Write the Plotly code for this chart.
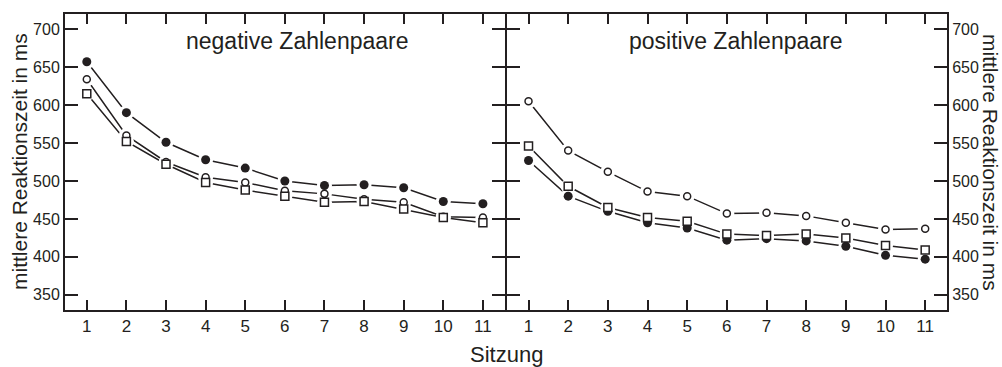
import plotly.graph_objects as go

sessions = list(range(1, 12))
y_ticks = [350, 400, 450, 500, 550, 600, 650, 700]

# negative Zahlenpaare
neg_filled = [657, 590, 551, 528, 517, 500, 494, 495, 491, 473, 470]
neg_circle = [634, 560, 525, 505, 498, 487, 483, 476, 472, 453, 452]
neg_square = [615, 552, 522, 498, 488, 480, 472, 473, 463, 452, 445]

# positive Zahlenpaare
pos_filled = [527, 480, 460, 445, 438, 422, 424, 421, 414, 402, 397]
pos_circle = [605, 540, 512, 486, 480, 457, 458, 454, 445, 436, 437]
pos_square = [546, 493, 465, 452, 447, 430, 428, 430, 425, 415, 409]

panel_titles = ["negative Zahlenpaare", "positive Zahlenpaare"]
x_title = "Sitzung"
y_title = "mittlere Reaktionszeit in ms"

INK = "#231f20"
FONT = "Liberation Sans, Arial, sans-serif"
W, H = 1002, 367

fig = go.Figure()

panels = [
    ("x", "y", [neg_filled, neg_circle, neg_square]),
    ("x2", "y2", [pos_filled, pos_circle, pos_square]),
]
styles = [
    dict(symbol="circle", size=9, fill=INK, lw=0),
    dict(symbol="circle", size=7, fill="white", lw=1.5),
    dict(symbol="square", size=8, fill="white", lw=1.5),
]

for xa, ya, series in panels:
    for s in series:
        fig.add_trace(go.Scatter(x=sessions, y=s, mode="lines", xaxis=xa, yaxis=ya,
                                 line=dict(color=INK, width=1.5), showlegend=False,
                                 hoverinfo="skip"))
    for s in series:
        fig.add_trace(go.Scatter(x=sessions, y=s, mode="markers", xaxis=xa, yaxis=ya,
                                 marker=dict(symbol="circle", size=15, color="white",
                                             line=dict(width=0)),
                                 showlegend=False, hoverinfo="skip"))
    for s, st in zip(series, styles):
        fig.add_trace(go.Scatter(x=sessions, y=s, mode="markers", xaxis=xa, yaxis=ya,
                                 marker=dict(symbol=st["symbol"], size=st["size"],
                                             color=st["fill"],
                                             line=dict(width=st["lw"], color=INK)),
                                 showlegend=False))

xcommon = dict(range=[0.45, 11.55], tickmode="array", tickvals=sessions,
               ticks="inside", ticklen=10, tickwidth=2, tickcolor=INK,
               showline=True, linewidth=2, linecolor=INK, mirror="allticks",
               showgrid=False, zeroline=False,
               tickfont=dict(family=FONT, size=17, color=INK))
ycommon = dict(range=[330, 720], tickmode="array", tickvals=y_ticks,
               ticks="inside", ticklen=13, tickwidth=2, tickcolor=INK,
               showline=True, linewidth=2, linecolor=INK, mirror="allticks",
               showgrid=False, zeroline=False, domain=[0.1553, 0.9619],
               tickfont=dict(family=FONT, size=16, color=INK))

B = 505.7
fig.update_layout(
    width=W, height=H,
    margin=dict(l=0, r=0, t=0, b=0),
    paper_bgcolor="white", plot_bgcolor="white",
    xaxis=dict(domain=[65 / W, (B - 1) / W], anchor="y", **xcommon),
    xaxis2=dict(domain=[(B + 1) / W, 947 / W], anchor="y2", **xcommon),
    yaxis=dict(anchor="x", side="left", **ycommon),
    yaxis2=dict(anchor="x2", side="right", **ycommon),
    font=dict(family=FONT, color=INK),
)

for text, x in zip(panel_titles, [297, 736]):
    fig.add_annotation(text=text, x=x / W, y=1 - 41 / H, xref="paper", yref="paper",
                       showarrow=False, xanchor="center", yanchor="middle",
                       font=dict(family=FONT, size=23, color=INK))

fig.add_annotation(text=x_title, x=506 / W, y=1 - 354 / H, xref="paper", yref="paper",
                   showarrow=False, xanchor="center", yanchor="middle",
                   font=dict(family=FONT, size=22, color=INK))
fig.add_annotation(text=y_title, x=19 / W, y=1 - 162 / H, xref="paper", yref="paper",
                   showarrow=False, xanchor="center", yanchor="middle", textangle=-90,
                   font=dict(family=FONT, size=21, color=INK))
fig.add_annotation(text=y_title, x=991 / W, y=1 - 162 / H, xref="paper", yref="paper",
                   showarrow=False, xanchor="center", yanchor="middle", textangle=90,
                   font=dict(family=FONT, size=21, color=INK))

fig.write_html("out.html")
